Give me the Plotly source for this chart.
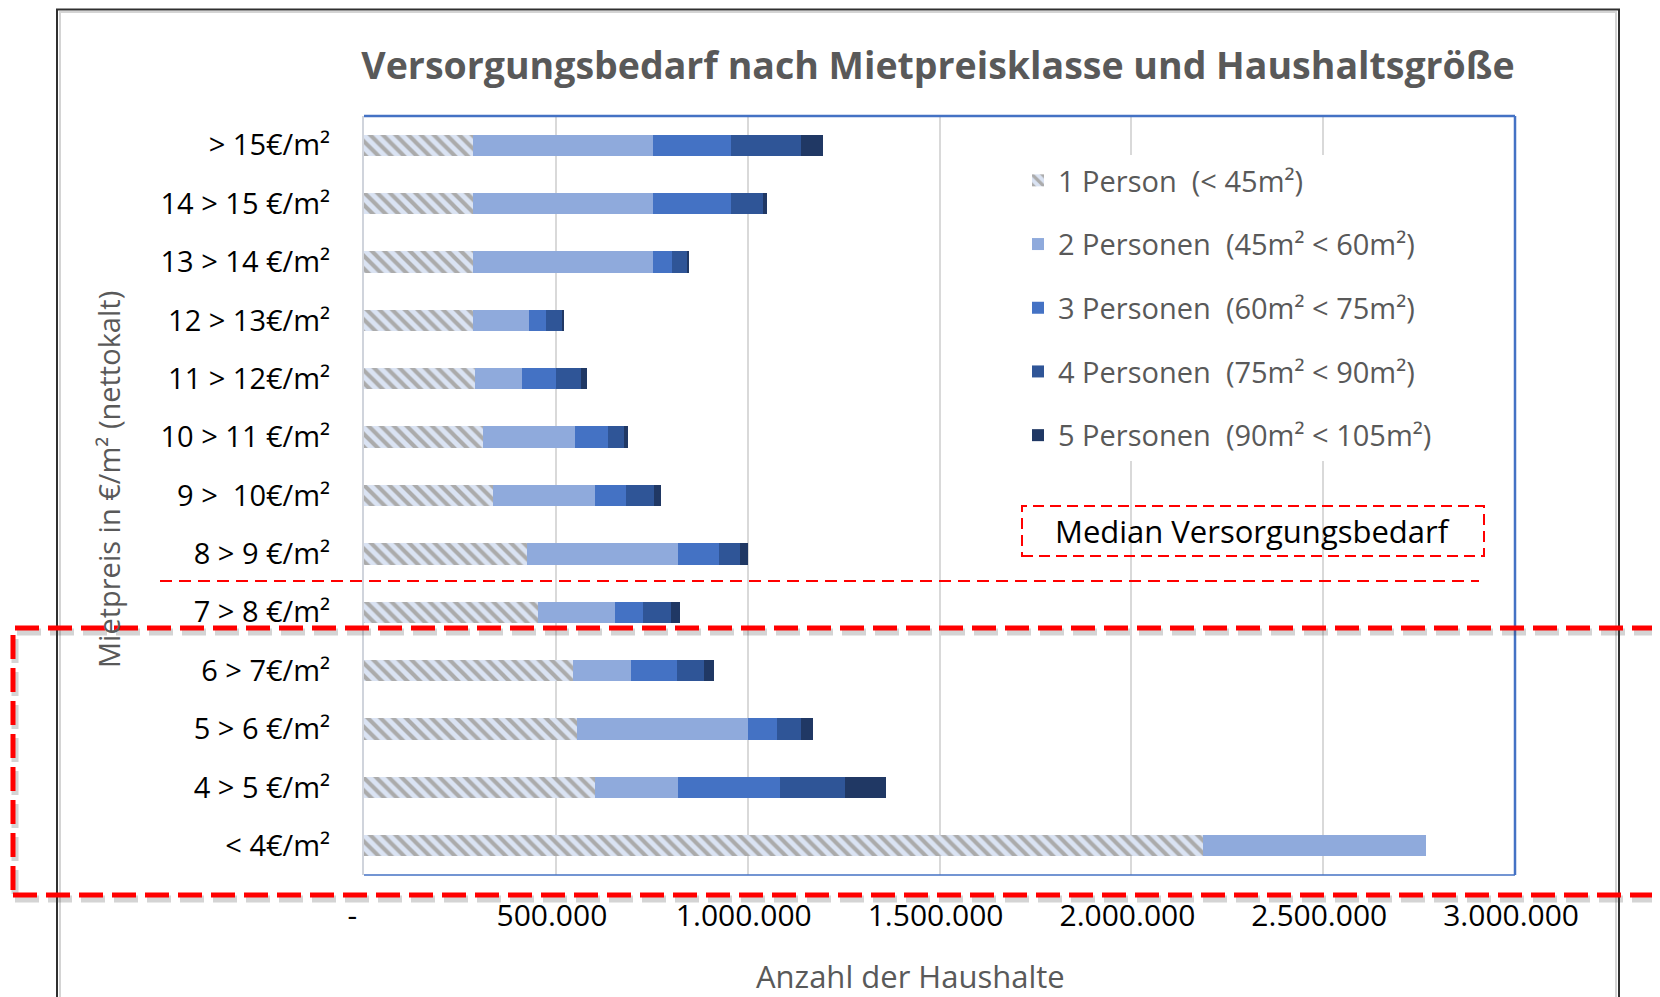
import plotly.graph_objects as go

# ---------------- data ----------------
categories = ["> 15€/m²", "14 > 15 €/m²", "13 > 14 €/m²", "12 > 13€/m²", "11 > 12€/m²",
              "10 > 11 €/m²", "9 >\u00a0\u00a010€/m²", "8 > 9 €/m²", "7 > 8 €/m²", "6 > 7€/m²",
              "5 > 6 €/m²", "4 > 5 €/m²", "< 4€/m²"]

series_names = ["1 Person\u00a0\u00a0(< 45m²)", "2 Personen\u00a0\u00a0(45m² < 60m²)",
                "3 Personen\u00a0\u00a0(60m² < 75m²)", "4 Personen\u00a0\u00a0(75m² < 90m²)",
                "5 Personen\u00a0\u00a0(90m² < 105m²)"]

p1 = [284000, 284000, 284000, 284000, 290000, 309000, 335000, 424000, 454000, 544000, 556000, 601000, 2186000]
p2 = [470000, 470000, 470000, 147000, 121000, 242000, 266000, 394000, 199000, 153000, 444000, 217000, 582000]
p3 = [202000, 202000, 50000, 43000, 89000, 84000, 83000, 106000, 75000, 120000, 77000, 265000, 0]
p4 = [184000, 84000, 40000, 44000, 65000, 43000, 71000, 57000, 71000, 69000, 62000, 170000, 0]
p5 = [57000, 10000, 4000, 2000, 17000, 10000, 18000, 20000, 25000, 25000, 32000, 108000, 0]

tick_vals = [0, 500000, 1000000, 1500000, 2000000, 2500000, 3000000]
tick_text = ["-\u00a0\u00a0\u00a0", "500.000\u00a0", "1.000.000\u00a0", "1.500.000\u00a0",
             "2.000.000\u00a0", "2.500.000\u00a0", "3.000.000\u00a0"]

colors = ["#DAE3F3", "#8FAADC", "#4472C4", "#2F5597", "#203864"]

# ---------------- geometry helpers (screen pixel -> paper) ----------------
W, H = 1660, 997
OFF = 8  # page body margin
L, R, T, B = 364 - OFF, 1515 - OFF, 116 - OFF, 875 - OFF


def px(x):
    return (x - OFF - L) / (R - L)


def py(y):
    return (B - (y - OFF)) / (B - T)


fig = go.Figure()
all_series = [p1, p2, p3, p4, p5]
for i, (name, vals) in enumerate(zip(series_names, all_series)):
    marker = dict(color=colors[i], line=dict(width=0))
    if i == 0:
        marker["pattern"] = dict(shape="\\", fgcolor="#ABABAB", bgcolor="#DAE3F3",
                                 size=9, solidity=0.45, fillmode="replace")
    fig.add_trace(go.Bar(
        y=categories, x=vals, name=name, orientation="h",
        marker=marker, legendgroup=f"g{i}"
    ))

font_main = "Open Sans"

shapes = []
# plot area border (top, right, bottom) in blue
shapes.append(dict(type="line", xref="paper", yref="paper", x0=0, x1=1, y0=1, y1=1,
                   line=dict(color="#4472C4", width=2.5), layer="above"))
shapes.append(dict(type="line", xref="paper", yref="paper", x0=1, x1=1, y0=0, y1=1,
                   line=dict(color="#4472C4", width=2.5), layer="above"))
shapes.append(dict(type="line", xref="paper", yref="paper", x0=0, x1=1, y0=0, y1=0,
                   line=dict(color="#4472C4", width=1.5), layer="above"))
# outer chart frame
shapes.append(dict(type="rect", xref="paper", yref="paper",
                   x0=px(60), x1=px(1616), y0=py(1020), y1=py(12),
                   line=dict(color="#D4D4D4", width=2), layer="below"))
shapes.append(dict(type="rect", xref="paper", yref="paper",
                   x0=px(57), x1=px(1619), y0=py(1020), y1=py(9.5),
                   line=dict(color="#303030", width=2), layer="below"))
# median dashed line
shapes.append(dict(type="line", xref="paper", yref="paper",
                   x0=px(160), x1=px(1479), y0=py(581), y1=py(581),
                   line=dict(color="#FF0000", width=2, dash="12px,7px"), layer="above"))
# median label box
shapes.append(dict(type="rect", xref="paper", yref="paper",
                   x0=px(1022), x1=px(1484), y0=py(556), y1=py(506),
                   line=dict(color="#FF0000", width=2, dash="11px,6px"), layer="above"))
# big highlight rectangle: shadow then red dashes
shapes.append(dict(type="rect", xref="paper", yref="paper",
                   x0=px(15), x1=px(1660), y0=py(899), y1=py(632),
                   line=dict(color="rgba(60,60,60,0.22)", width=7, dash="24px,9px"), layer="above"))
shapes.append(dict(type="rect", xref="paper", yref="paper",
                   x0=px(13), x1=px(1658), y0=py(895), y1=py(628),
                   line=dict(color="#FF0000", width=5, dash="24px,9px"), layer="above"))

annotations = [
    dict(text="Mietpreis in €/m² (nettokalt)", xref="paper", yref="paper",
         x=px(108), y=py(480), textangle=-90, showarrow=False,
         xanchor="center", yanchor="middle",
         font=dict(family=font_main, size=29, color="#595959")),
    dict(text="Anzahl der Haushalte", xref="paper", yref="paper",
         x=px(910), y=py(976), showarrow=False, xanchor="center", yanchor="middle",
         font=dict(family=font_main, size=31, color="#595959")),
    dict(text="Median Versorgungsbedarf", xref="paper", yref="paper",
         x=px(1252), y=py(531), showarrow=False, xanchor="center", yanchor="middle",
         font=dict(family=font_main, size=31, color="#000000")),
]

fig.update_layout(
    width=W, height=H,
    margin=dict(l=L, r=W - R, t=T, b=H - B, pad=0),
    barmode="stack", bargap=0.635,
    paper_bgcolor="white", plot_bgcolor="white",
    title=dict(text="<b>Versorgungsbedarf nach Mietpreisklasse und Haushaltsgröße</b>",
               x=(938 - OFF) / W, y=1 - (66 - OFF) / H, xanchor="center", yanchor="middle",
               font=dict(family=font_main, size=37.5, color="#595959")),
    legend=dict(x=px(1018), y=py(155), xanchor="left", yanchor="top",
                bgcolor="white", borderwidth=0, traceorder="grouped",
                tracegroupgap=23,
                font=dict(family=font_main, size=29, color="#595959")),
    shapes=shapes, annotations=annotations,
    xaxis=dict(range=[0, 3000000], tickvals=tick_vals, ticktext=tick_text,
               showgrid=True, gridcolor="#D9D9D9", gridwidth=2, zeroline=False,
               ticks="", ticklabelstandoff=20, showline=False,
               tickfont=dict(family=font_main, size=30, color="#000000")),
    yaxis=dict(categoryorder="array", categoryarray=categories, autorange="reversed",
               showgrid=False, zeroline=False, showline=True, linecolor="#D0D4DC", linewidth=2,
               ticks="", ticklabelstandoff=26,
               tickfont=dict(family=font_main, size=29, color="#000000")),
    showlegend=True,
)

fig.write_html("out.html")
